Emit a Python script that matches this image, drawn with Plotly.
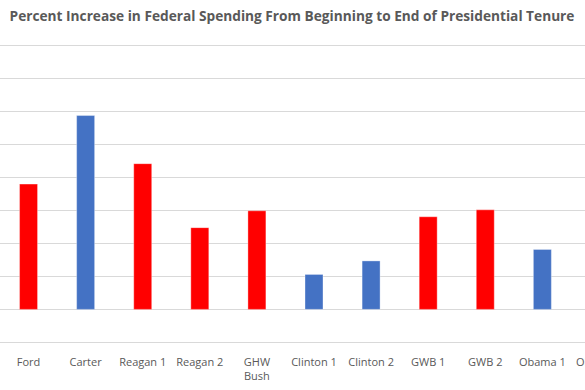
import plotly.graph_objects as go

categories = ["Ford", "Carter", "Reagan 1", "Reagan 2", "GHW<br>Bush", "Clinton 1",
              "Clinton 2", "GWB 1", "GWB 2", "Obama 1", "Obama 2"]
pct_increase = [38.0, 58.8, 44.2, 24.8, 29.9, 10.6, 14.7, 28.1, 30.2, 18.2, None]
party = ["R", "D", "R", "R", "R", "D", "D", "R", "R", "D", "D"]

party_colors = {"R": "#FF0000", "D": "#4472C4"}
bar_colors = [party_colors[p] for p in party]

fig = go.Figure(go.Bar(
    x=categories, y=pct_increase,
    marker=dict(color=bar_colors, line=dict(color="rgba(255,255,255,0.35)", width=1)),
))

fig.update_layout(
    width=630, height=390, autosize=False,
    margin=dict(l=0, r=2, t=44, b=46),
    paper_bgcolor="white", plot_bgcolor="white",
    bargap=0.685,
    showlegend=False,
    title=dict(text="<b>Percent Increase in Federal Spending From Beginning to End of Presidential Tenure</b>",
               x=292 / 628, xanchor="center", xref="paper", y=1 - 16 / 390, yanchor="middle",
               font=dict(family="Open Sans", size=13.7, color="#595959")),
    font=dict(family="Open Sans", color="#595959"),
)
fig.update_xaxes(range=[-0.5, 10.5], showgrid=False, showline=False, ticks="",
                 tickfont=dict(size=11, color="#595959", family="Open Sans"),
                 ticklabelstandoff=10, tickangle=0)
fig.update_yaxes(range=[-10.5, 80.5], dtick=10, tick0=0, showgrid=True, gridcolor="#D9D9D9",
                 gridwidth=1, zeroline=True, zerolinecolor="#D9D9D9", zerolinewidth=1,
                 showticklabels=False, showline=False, ticks="")

fig.write_html("out.html", config={"displayModeBar": False},
               post_script="document.body.style.margin='0px';")
